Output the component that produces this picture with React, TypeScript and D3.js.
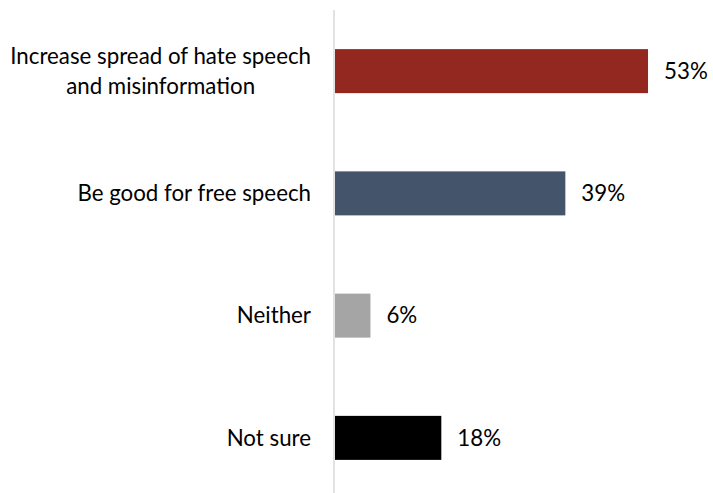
import React, { useEffect, useRef } from "react";
import * as d3 from "d3";

const categories: string[][] = [
  ["Increase spread of hate speech", "and misinformation"],
  ["Be good for free speech"],
  ["Neither"],
  ["Not sure"],
];
const values: number[] = [53, 39, 6, 18];
const colors: string[] = ["#922820", "#44546A", "#A5A5A5", "#000000"];

const W = 713;
const H = 493;
const FONT = "Lato, 'Open Sans', sans-serif";
const FS = 22.3;

export default function App() {
  const ref = useRef<SVGSVGElement>(null);
  useEffect(() => {
    const svg = d3.select(ref.current);
    svg.selectAll("*").remove();
    const idx = values.map((_, i) => i);
    const y = d3.scaleBand<number>().domain(idx).range([10, 499]).paddingInner(0.64).paddingOuter(0.32);
    const x = d3.scaleLinear().domain([0, 100]).range([335, 925.6]);

    const g = svg.append("g");
    g.selectAll("rect.bar")
      .data(idx)
      .join("rect")
      .attr("class", "bar")
      .attr("x", x(0))
      .attr("y", (i) => y(i)!)
      .attr("width", (i) => x(values[i]) - x(0))
      .attr("height", y.bandwidth())
      .attr("fill", (i) => colors[i]);

    g.append("line")
      .attr("x1", 334)
      .attr("x2", 334)
      .attr("y1", 10)
      .attr("y2", H)
      .attr("stroke", "#D9D9D9")
      .attr("stroke-width", 1.5);

    g.selectAll("text.val")
      .data(idx)
      .join("text")
      .attr("class", "val")
      .attr("x", (i) => x(values[i]) + 16)
      .attr("y", (i) => y(i)! + y.bandwidth() / 2)
      .attr("dy", "0.35em")
      .attr("font-family", FONT)
      .attr("font-size", FS)
      .attr("fill", "#000")
      .text((i) => `${values[i]}%`);

    const rightEdge = 311;
    const lh = 30;
    idx.forEach((i) => {
      const lines = categories[i];
      const cy = y(i)! + y.bandwidth() / 2;
      const t = g
        .append("text")
        .attr("font-family", FONT)
        .attr("font-size", FS)
        .attr("fill", "#000")
        .attr("text-anchor", "middle");
      const spans = lines.map((l, k) =>
        t
          .append("tspan")
          .attr("y", cy + (k - (lines.length - 1) / 2) * lh)
          .attr("dy", "0.35em")
          .text(l)
      );
      let maxW = 0;
      spans.forEach((s) => {
        const n = s.node() as SVGTSpanElement;
        maxW = Math.max(maxW, n.getComputedTextLength());
      });
      spans.forEach((s) => s.attr("x", rightEdge - maxW / 2));
    });
  }, []);
  return (
    <svg
      ref={ref}
      width={W}
      height={H}
      style={{ position: "absolute", left: 0, top: 0, background: "#fff" }}
    />
  );
}
